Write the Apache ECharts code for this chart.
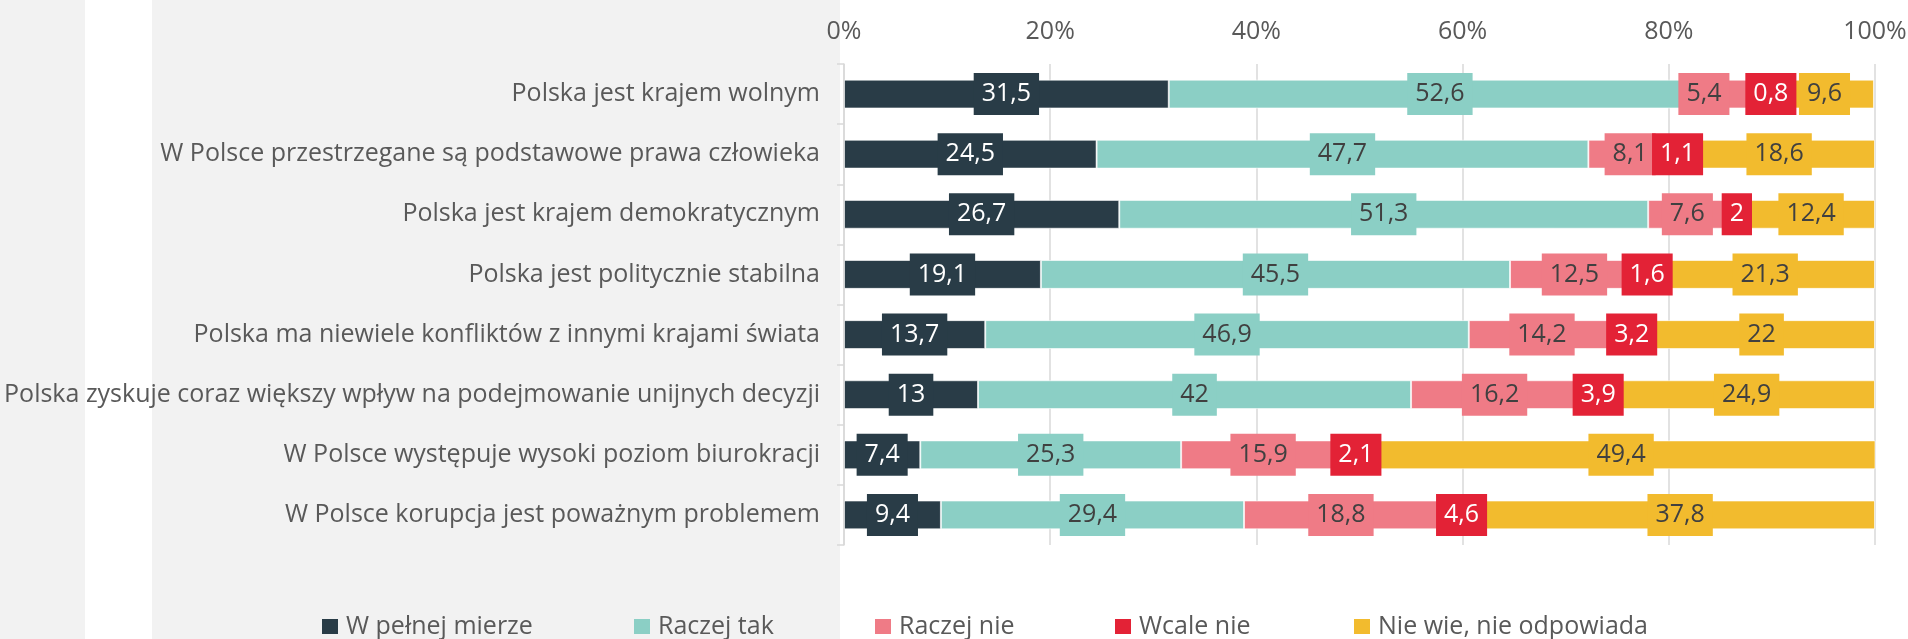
<!DOCTYPE html>
<html>
<head>
<meta charset="utf-8">
<script src="https://cdn.jsdelivr.net/npm/echarts@6/dist/echarts.min.js"></script>
<style>
  html, body { margin: 0; padding: 0; background: #ffffff; }
  #chart { width: 1908px; height: 639px; }
</style>
</head>
<body>
<div id="chart"></div>
<script>
// categories, top to bottom
var categories = [
  'Polska jest krajem wolnym',
  'W Polsce przestrzegane są podstawowe prawa człowieka',
  'Polska jest krajem demokratycznym',
  'Polska jest politycznie stabilna',
  'Polska ma niewiele konfliktów z innymi krajami świata',
  'Polska zyskuje coraz większy wpływ na podejmowanie unijnych decyzji',
  'W Polsce występuje wysoki poziom biurokracji',
  'W Polsce korupcja jest poważnym problemem'
];

var seriesNames = ['W pełnej mierze', 'Raczej tak', 'Raczej nie', 'Wcale nie', 'Nie wie, nie odpowiada'];

var wPelnejMierze = [31.5, 24.5, 26.7, 19.1, 13.7, 13, 7.4, 9.4];
var raczejTak     = [52.6, 47.7, 51.3, 45.5, 46.9, 42, 25.3, 29.4];
var raczejNie     = [5.4, 8.1, 7.6, 12.5, 14.2, 16.2, 15.9, 18.8];
var wcaleNie      = [0.8, 1.1, 2, 1.6, 3.2, 3.9, 2.1, 4.6];
var nieWie        = [9.6, 18.6, 12.4, 21.3, 22, 24.9, 49.4, 37.8];

var xTicks = [0, 20, 40, 60, 80, 100];

var colors = ['#293c47', '#8bcfc5', '#ef7b86', '#e32236', '#f2bb2e'];
var labelColors = ['#ffffff', '#404040', '#404040', '#ffffff', '#404040'];
var legendLeft = [322, 634, 875, 1115, 1354];

var FONT = '"Open Sans", Calibri, sans-serif';
var FS = 25;

var chart = echarts.init(document.getElementById('chart'));

var values = [wPelnejMierze, raczejTak, raczejNie, wcaleNie, nieWie];
var series = [];
var legends = [];
for (var i = 0; i < values.length; i++) {
  var data = values[i].slice();
  // "5,4" label in the first row is nudged left in the original so it does not sit under "0,8"
  if (i === 2) data[0] = { value: values[i][0], label: { offset: [-35, 0] } };
  series.push({
    name: seriesNames[i],
    type: 'bar',
    stack: 'total',
    barWidth: '48%',
    data: data,
    itemStyle: {
      color: colors[i],
      borderColor: 'rgba(255,255,255,0.6)',
      borderWidth: 1
    },
    label: {
      show: true,
      position: 'inside',
      formatter: function (p) { return String(p.value).replace('.', ','); },
      color: labelColors[i],
      backgroundColor: colors[i],
      padding: [7, 8],
      lineHeight: 28,
      fontFamily: FONT,
      fontSize: FS
    },
    emphasis: { disabled: true }
  });
  legends.push({
    data: [seriesNames[i]],
    left: legendLeft[i],
    top: 614,
    padding: 0,
    icon: 'rect',
    itemWidth: 16,
    itemHeight: 15,
    itemStyle: { borderWidth: 0 },
    selectedMode: false,
    textStyle: { color: '#595959', fontFamily: FONT, fontSize: FS, padding: [0, 0, 0, 3] }
  });
}

var option = {
  backgroundColor: '#ffffff',
  animation: false,
  graphic: [
    { type: 'rect', z: -10, shape: { x: 0, y: 0, width: 840, height: 639 }, style: { fill: '#f2f2f2' } },
    { type: 'rect', z: -9, shape: { x: 85, y: 0, width: 67, height: 639 }, style: { fill: '#ffffff' } }
  ],
  legend: legends,
  grid: { left: 844, right: 33, top: 64, bottom: 94, containLabel: false, outerBoundsMode: 'none' },
  xAxis: {
    type: 'value',
    position: 'top',
    min: xTicks[0],
    max: xTicks[xTicks.length - 1],
    interval: xTicks[1] - xTicks[0],
    axisLine: { show: false },
    axisTick: { show: false },
    axisLabel: { formatter: '{value}%', color: '#595959', fontFamily: FONT, fontSize: FS, margin: 20 },
    splitLine: { show: true, lineStyle: { color: '#d9d9d9', width: 1.5 } }
  },
  yAxis: {
    type: 'category',
    inverse: true,
    data: categories,
    axisLine: { show: true, lineStyle: { color: '#d9d9d9', width: 1.5 } },
    axisTick: { show: true, length: 7, lineStyle: { color: '#d9d9d9', width: 1.5 } },
    axisLabel: { color: '#595959', fontFamily: FONT, fontSize: FS, margin: 24 }
  },
  series: series
};

chart.setOption(option);
</script>
</body>
</html>
